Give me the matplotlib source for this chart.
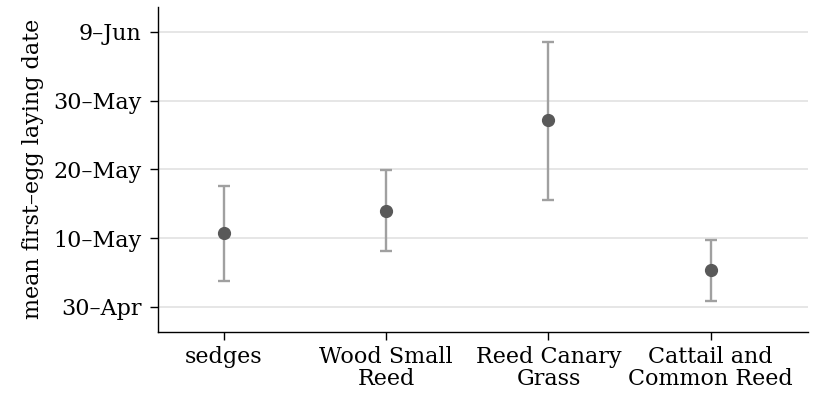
import matplotlib
matplotlib.use("Agg")
import matplotlib.pyplot as plt

# habitat categories and first-egg dates (day of year, 2017-style non-leap)
categories = ["sedges", "Wood Small\nReed", "Reed Canary\nGrass", "Cattail and\nCommon Reed"]
mean_day = [130.7, 134.0, 147.1, 125.4]
lower_day = [123.8, 128.2, 135.6, 120.8]
upper_day = [137.6, 139.9, 158.5, 129.8]

ytick_days = [120, 130, 140, 150, 160]
ytick_labels = ["30\u2013Apr", "10\u2013May", "20\u2013May", "30\u2013May", "9\u2013Jun"]

plt.rcParams["font.family"] = ["DejaVu Serif"]
fs = 16

fig = plt.figure(figsize=(8.14, 3.95), dpi=100)
ax = fig.add_axes([0.1947, 0.1603, 0.7979, 0.822])

x = list(range(1, len(categories) + 1))
err_lo = [m - l for m, l in zip(mean_day, lower_day)]
err_hi = [u - m for m, u in zip(mean_day, upper_day)]

for d in ytick_days:
    ax.axhline(d, color="#e4e4e4", lw=1.3, zorder=0)

ax.errorbar(x, mean_day, yerr=[err_lo, err_hi], fmt="none", ecolor="#a0a0a0",
            elinewidth=1.7, capsize=4.5, capthick=1.7, zorder=2)
ax.plot(x, mean_day, "o", color="#595959", ms=8.5, zorder=3)

ax.set_xlim(0.596, 4.6)
ax.set_ylim(116.4, 163.6)
ax.set_xticks(x)
ax.set_xticklabels(categories, fontsize=fs, linespacing=1.0)
ax.set_yticks(ytick_days)
ax.set_yticklabels(ytick_labels, fontsize=fs)
ax.tick_params(axis="both", length=6, width=1, color="black")
ax.tick_params(axis="y", pad=6)
ax.tick_params(axis="x", pad=4)
ax.set_ylabel("mean first\u2013egg laying date", fontsize=fs, labelpad=7)

for s in ["top", "right"]:
    ax.spines[s].set_visible(False)
for s in ["left", "bottom"]:
    ax.spines[s].set_linewidth(1.0)

fig.savefig("out.png", dpi=100)
